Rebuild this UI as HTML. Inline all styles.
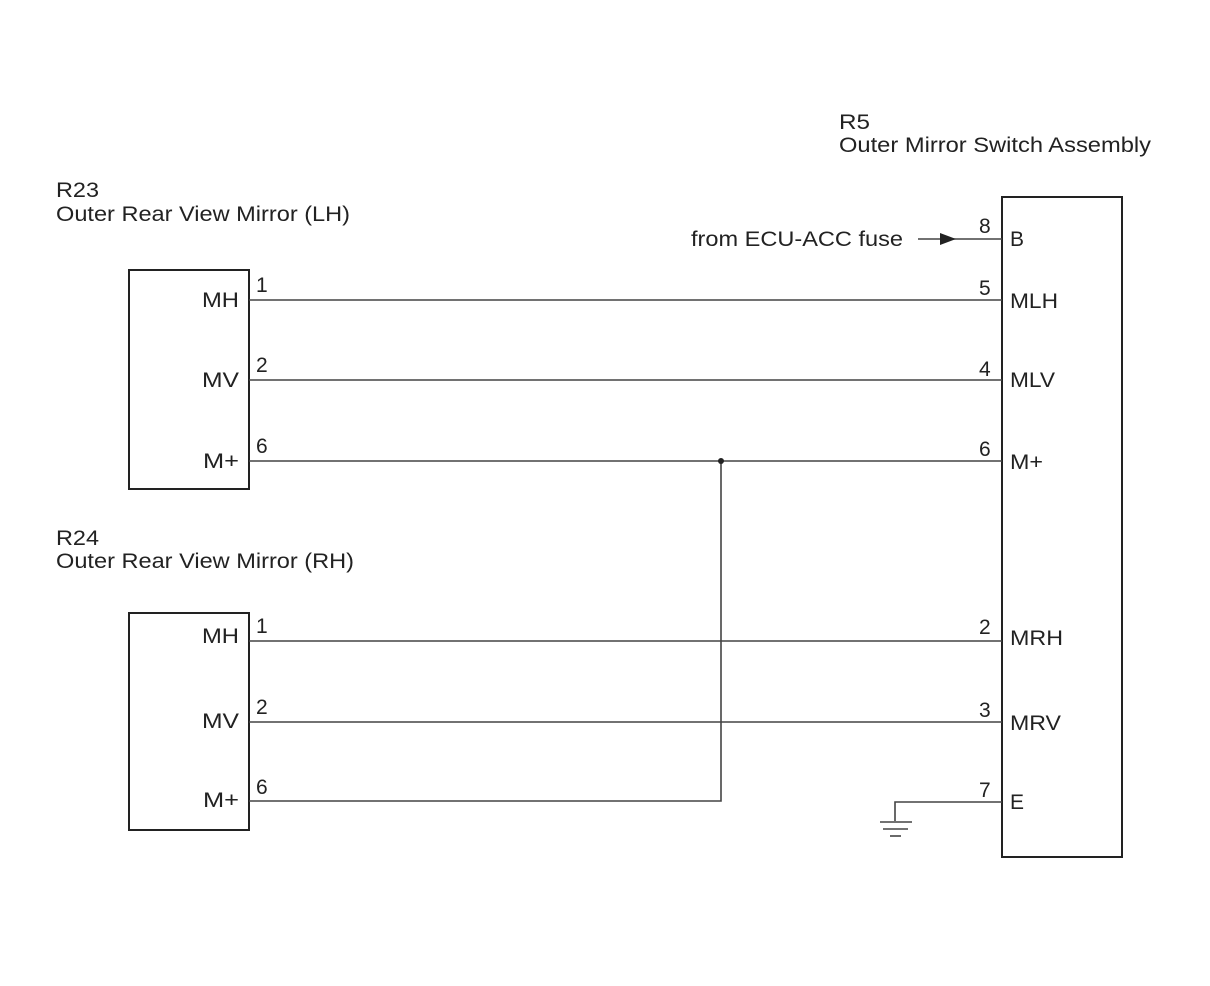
<!DOCTYPE html>
<html><head><meta charset="utf-8"><style>
html,body{margin:0;padding:0;background:#fff}
svg{display:block}
text{font-family:"Liberation Sans",Arial,sans-serif;font-size:21px;fill:#222}
</style></head><body>
<svg width="1210" height="986" viewBox="0 0 1210 986" xmlns="http://www.w3.org/2000/svg">
<g fill="none" stroke="#222" stroke-width="2">
<rect x="129" y="270" width="120" height="219"/>
<rect x="129" y="613" width="120" height="217"/>
<rect x="1002" y="197" width="120" height="660"/>
</g>
<g stroke="#444" stroke-width="1.6" fill="none">
<line x1="249" y1="300" x2="1002" y2="300"/>
<line x1="249" y1="380" x2="1002" y2="380"/>
<line x1="249" y1="461" x2="1002" y2="461"/>
<line x1="249" y1="641" x2="1002" y2="641"/>
<line x1="249" y1="722" x2="1002" y2="722"/>
<polyline points="249,801 721,801 721,461"/>
<line x1="918" y1="239" x2="1002" y2="239"/>
<polyline points="1002,802 895,802 895,821"/>
<line x1="880" y1="822" x2="912" y2="822"/>
<line x1="883" y1="829" x2="908" y2="829"/>
<line x1="890" y1="836" x2="901" y2="836"/>
</g>
<circle cx="721" cy="461" r="3" fill="#222"/>
<polygon points="940,233 956,239 940,245" fill="#222"/>
<g lengthAdjust="spacingAndGlyphs">
<text x="56" y="197" textLength="43" lengthAdjust="spacingAndGlyphs">R23</text>
<text x="56" y="221" textLength="294" lengthAdjust="spacingAndGlyphs">Outer Rear View Mirror (LH)</text>
<text x="56" y="545" textLength="43" lengthAdjust="spacingAndGlyphs">R24</text>
<text x="56" y="568" textLength="298" lengthAdjust="spacingAndGlyphs">Outer Rear View Mirror (RH)</text>
<text x="839" y="129" textLength="31" lengthAdjust="spacingAndGlyphs">R5</text>
<text x="839" y="152" textLength="312" lengthAdjust="spacingAndGlyphs">Outer Mirror Switch Assembly</text>
<text x="691" y="246" textLength="212" lengthAdjust="spacingAndGlyphs">from ECU-ACC fuse</text>
</g>
<g>
<text x="202" y="307" textLength="37" lengthAdjust="spacingAndGlyphs">MH</text>
<text x="202" y="387" textLength="37" lengthAdjust="spacingAndGlyphs">MV</text>
<text x="203" y="468" textLength="36" lengthAdjust="spacingAndGlyphs">M+</text>
<text x="202" y="643" textLength="37" lengthAdjust="spacingAndGlyphs">MH</text>
<text x="202" y="728" textLength="37" lengthAdjust="spacingAndGlyphs">MV</text>
<text x="203" y="807" textLength="36" lengthAdjust="spacingAndGlyphs">M+</text>
<text x="979" y="233">8</text>
<text x="979" y="295">5</text>
<text x="979" y="376">4</text>
<text x="979" y="456">6</text>
<text x="979" y="634">2</text>
<text x="979" y="717">3</text>
<text x="979" y="797">7</text>
<text x="256" y="292">1</text>
<text x="256" y="372">2</text>
<text x="256" y="453">6</text>
<text x="256" y="633">1</text>
<text x="256" y="714">2</text>
<text x="256" y="794">6</text>
<text x="1010" y="246">B</text>
<text x="1010" y="308" textLength="48" lengthAdjust="spacingAndGlyphs">MLH</text>
<text x="1010" y="387" textLength="45" lengthAdjust="spacingAndGlyphs">MLV</text>
<text x="1010" y="469" textLength="33" lengthAdjust="spacingAndGlyphs">M+</text>
<text x="1010" y="645" textLength="53" lengthAdjust="spacingAndGlyphs">MRH</text>
<text x="1010" y="730" textLength="51" lengthAdjust="spacingAndGlyphs">MRV</text>
<text x="1010" y="809">E</text>
</g>
</svg>
</body></html>
